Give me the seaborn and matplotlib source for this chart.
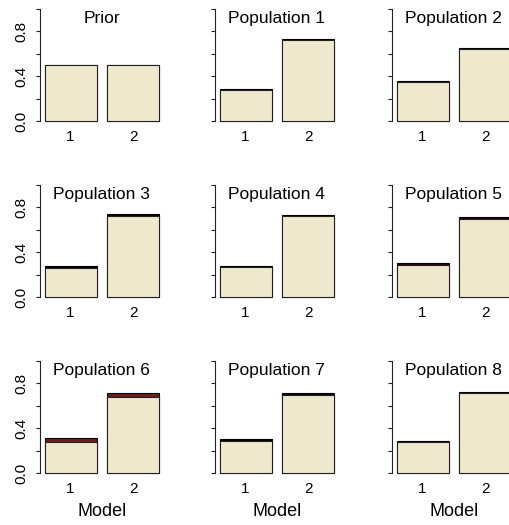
import matplotlib
matplotlib.use('Agg')
import matplotlib.pyplot as plt
import seaborn as sns

# posterior model probabilities, one entry per panel
titles = ["Prior", "Population 1", "Population 2",
          "Population 3", "Population 4", "Population 5",
          "Population 6", "Population 7", "Population 8"]
models = ["1", "2"]
# lower / upper edge of the bar top (spread over replicates)
model1_low = [0.50, 0.28, 0.35, 0.26, 0.27, 0.29, 0.28, 0.29, 0.28]
model1_high = [0.50, 0.29, 0.36, 0.28, 0.28, 0.30, 0.31, 0.30, 0.29]
model2_low = [0.50, 0.72, 0.64, 0.72, 0.72, 0.70, 0.68, 0.70, 0.71]
model2_high = [0.50, 0.73, 0.65, 0.74, 0.73, 0.71, 0.71, 0.71, 0.72]
band_colors = ["black", "black", "black", "black", "black",
               "#2a0505", "#6e1f1f", "black", "black"]

sns.set_style("white")
plt.rcParams['font.family'] = ['Liberation Sans', 'DejaVu Sans']
plt.rcParams['text.color'] = 'black'
plt.rcParams['xtick.color'] = 'black'
plt.rcParams['ytick.color'] = 'black'
plt.rcParams['axes.labelcolor'] = 'black'

W, H = 509, 525
fig = plt.figure(figsize=(W / 100, H / 100), dpi=100)

col_left = [40, 215, 392]
row_top = [4.5, 180.5, 356.5]
ax_w, ax_h = 123.6, 121

fill = "#EEE8CD"
edge = "#222222"
bw = 1 / 1.2

for i, title in enumerate(titles):
    r, c = divmod(i, 3)
    ax = fig.add_axes([col_left[c] / W, 1 - (row_top[r] + ax_h) / H, ax_w / W, ax_h / H])
    # upper band first, then the lower bar drawn on top of it
    sns.barplot(x=models, y=[model1_high[i], model2_high[i]], ax=ax,
                color=band_colors[i], saturation=1, width=bw,
                edgecolor="black", linewidth=0.8)
    sns.barplot(x=models, y=[model1_low[i], model2_low[i]], ax=ax,
                color=fill, saturation=1, width=bw,
                edgecolor=edge, linewidth=0.8)
    ax.set_xlim(-0.49, 1.49)
    ax.set_ylim(-0.04, 1.04)
    for s in ["top", "right", "bottom"]:
        ax.spines[s].set_visible(False)
    ax.spines["left"].set_bounds(0, 1)
    ax.spines["left"].set_color("#222222")
    ax.spines["left"].set_linewidth(0.8)
    ax.set_yticks([0, 0.2, 0.4, 0.6, 0.8, 1.0])
    if c == 0:
        ax.set_yticklabels(["0.0", "", "0.4", "", "0.8", ""], rotation=90, va="center")
    else:
        ax.set_yticklabels([])
    ax.tick_params(axis="y", length=3.1, width=0.8, color="#222222", pad=5, labelsize=11, left=True)
    ax.tick_params(axis="x", length=0, pad=3, labelsize=11)
    ax.set_ylabel("")
    if r == 2:
        ax.set_xlabel("Model", fontsize=13, labelpad=5)
    else:
        ax.set_xlabel("")
    ax.text(0.5, 0.85, title, transform=ax.transAxes, ha="center", va="baseline", fontsize=12.5)

fig.savefig("out.png", dpi=100)
